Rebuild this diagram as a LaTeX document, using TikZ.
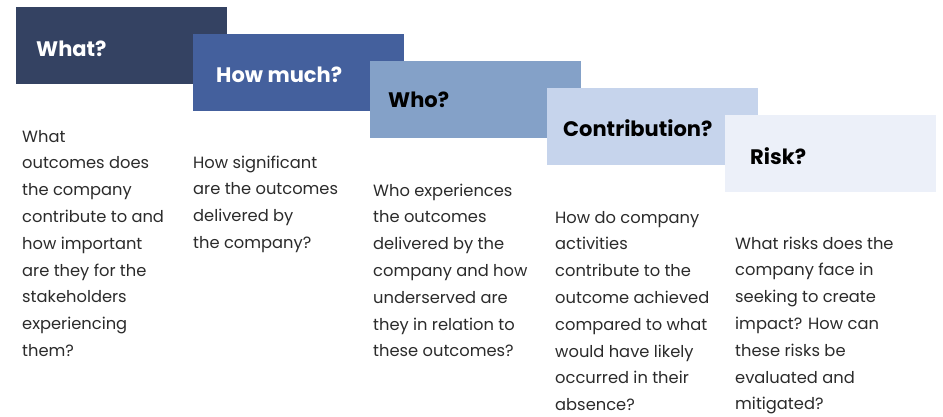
\documentclass[tikz,border=0pt]{standalone}
\usepackage{fontspec}
\setmainfont{Poppins}
\usepackage{xcolor}

\definecolor{shadeA}{HTML}{344262}
\definecolor{shadeB}{HTML}{44609D}
\definecolor{shadeC}{HTML}{84A1C8}
\definecolor{shadeD}{HTML}{C6D4EC}
\definecolor{shadeE}{HTML}{ECF0F9}
\definecolor{bodygray}{HTML}{2B2B2B}

\tikzset{
  stepbox/.style={rectangle, fill=#1, minimum width=211pt, minimum height=77pt, inner sep=0pt, anchor=north west},
  head/.style={anchor=base west, inner sep=0pt, font=\fontsize{21}{21}\selectfont\bfseries},
  % base of a multi-line node sits on its last line
  body/.style={anchor=base west, align=left, inner sep=0pt, text=bodygray, font=\fontsize{16.3}{26.8}\selectfont},
}

\begin{document}
\begin{tikzpicture}[x=1pt, y=-1pt]
  \useasboundingbox (0,0) rectangle (943,417);
  \fill[white] (0,0) rectangle (943,417);

  \node[stepbox=shadeA] (what) at (16,7) {};
  \node[stepbox=shadeB] (howmuch) at (193,34) {};
  \node[stepbox=shadeC] (who) at (370,61) {};
  \node[stepbox=shadeD] (contrib) at (547,88) {};
  \node[stepbox=shadeE] (risk) at (725,115) {};

  \node[head, text=white] (whatlbl) at ([xshift=20pt, yshift=-50pt]what.north west) {What?};
  \node[head, text=white] (howmuchlbl) at ([xshift=23pt, yshift=-49pt]howmuch.north west) {How much?};
  \node[head, text=black] (wholbl) at ([xshift=18pt, yshift=-47pt]who.north west) {Who?};
  \node[head, text=black] (contriblbl) at ([xshift=16pt, yshift=-49pt]contrib.north west) {Contribution?};
  \node[head, text=black] (risklbl) at ([xshift=25pt, yshift=-50pt]risk.north west) {Risk?};

  \node[body] (whattxt) at (22,356.4) {What\\outcomes does\\the company\\contribute to and\\how important\\are they for the\\stakeholders\\experiencing\\them?};
  \node[body] (howmuchtxt) at (193,248.4) {How significant\\are the outcomes\\delivered by\\the company?};
  \node[body] (whotxt) at (373,356.8) {Who experiences\\the outcomes\\delivered by the\\company and how\\underserved are\\they in relation to\\these outcomes?};
  \node[body] (contribtxt) at (555,410.6) {How do company\\activities\\contribute to the\\outcome achieved\\compared to what\\would have likely\\occurred in their\\absence?};
  \node[body] (risktxt) at (735,409.8) {What risks does the\\company face in\\seeking to create\\impact? How can\\these risks be\\evaluated and\\mitigated?};
\end{tikzpicture}
\end{document}
